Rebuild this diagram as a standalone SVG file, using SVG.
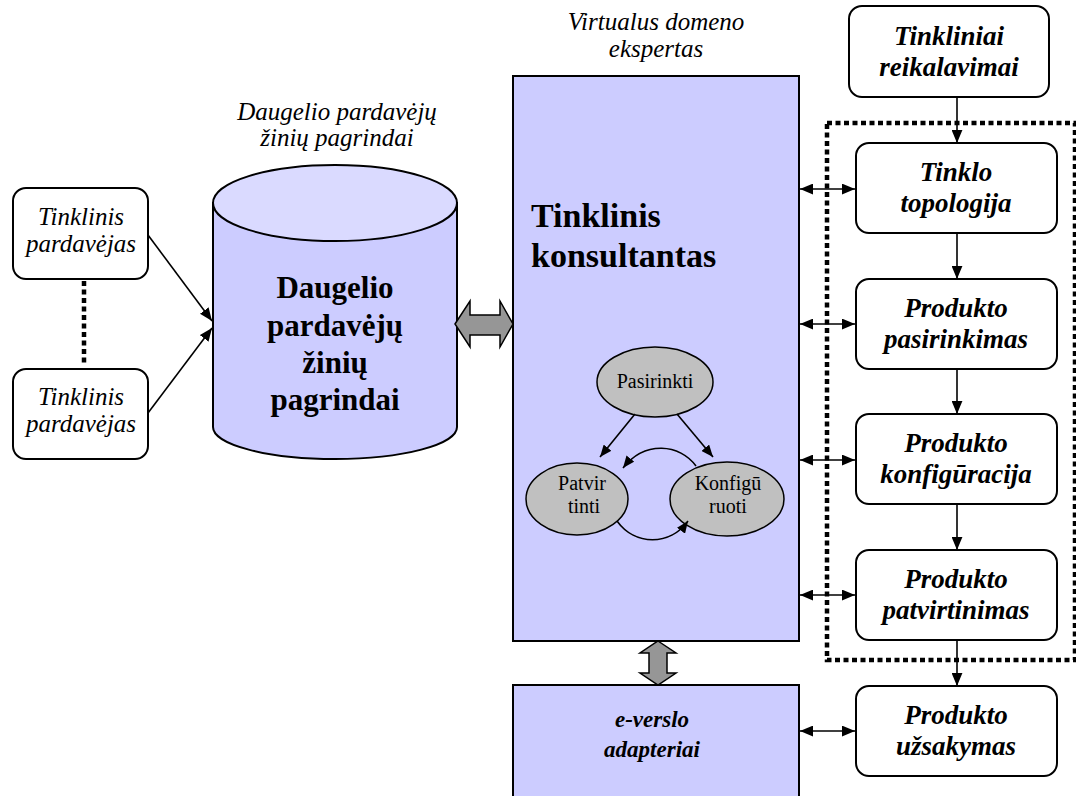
<svg xmlns="http://www.w3.org/2000/svg" width="1076" height="796" viewBox="0 0 1076 796">
<defs>
<style>
text{font-family:"Liberation Serif","DejaVu Serif",serif;fill:#000;text-anchor:middle}
.it{font-style:italic;font-size:25px}
.bi{font-style:italic;font-weight:bold;font-size:27px}
.box{fill:#fff;stroke:#000;stroke-width:2}
.blue{fill:#ccccff;stroke:#000;stroke-width:2}
.ell{fill:#c0c0c0;stroke:#000;stroke-width:1.5}
.ln{fill:none;stroke:#000;stroke-width:1.6}
.dot{fill:none;stroke:#000;stroke-width:4.5;stroke-dasharray:5 3.5}
.garrow{fill:#969696;stroke:#000;stroke-width:1.5}
.sm{font-size:20px}
</style>
<marker id="ah" viewBox="0 0 12 10" refX="12" refY="5" markerWidth="13" markerHeight="11" markerUnits="userSpaceOnUse" orient="auto-start-reverse">
<path d="M0,0 L12,5 L0,10 z" fill="#000"/>
</marker>
<marker id="ahs" viewBox="0 0 12 10" refX="12" refY="5" markerWidth="12" markerHeight="10" markerUnits="userSpaceOnUse" orient="auto">
<path d="M0,0 L12,5 L0,10 z" fill="#000"/>
</marker>
</defs>

<g id="label-kb">
<text class="it" x="337" y="120">Daugelio pardavėjų</text>
<text class="it" x="337" y="146">žinių pagrindai</text>
</g>
<g id="label-expert">
<text class="it" x="656" y="30">Virtualus domeno</text>
<text class="it" x="656" y="57">ekspertas</text>
</g>

<g id="vendor1">
<rect class="box" x="13" y="188" width="135" height="91" rx="13"/>
<text class="it" x="81" y="225">Tinklinis</text>
<text class="it" x="81" y="252">pardavėjas</text>
</g>
<g id="vendor2">
<rect class="box" x="13" y="369" width="135" height="90" rx="13"/>
<text class="it" x="81" y="405">Tinklinis</text>
<text class="it" x="81" y="432">pardavėjas</text>
</g>

<g id="knowledge-base">
<path class="blue" d="M213,203 L213,427 A122,32 0 0 0 457,427 L457,203 Z"/>
<ellipse cx="335" cy="203" rx="122" ry="38" fill="#dadaff" stroke="#000" stroke-width="2"/>
<text x="335" y="298" font-weight="bold" font-size="31">Daugelio</text>
<text x="335" y="336" font-weight="bold" font-size="31">pardavėjų</text>
<text x="335" y="373" font-weight="bold" font-size="31">žinių</text>
<text x="335" y="410" font-weight="bold" font-size="31">pagrindai</text>
</g>

<g id="consultant">
<rect class="blue" x="513" y="76" width="286" height="565"/>
<text x="531" y="227" font-weight="bold" font-size="34" style="text-anchor:start">Tinklinis</text>
<text x="531" y="267" font-weight="bold" font-size="34" style="text-anchor:start">konsultantas</text>
</g>

<g id="pasirinkti">
<ellipse class="ell" cx="655" cy="382" rx="58" ry="35"/>
<text class="sm" x="655" y="388">Pasirinkti</text>
</g>
<g id="patvirtinti">
<ellipse class="ell" cx="577" cy="499" rx="51" ry="36"/>
<text class="sm" x="582" y="490">Patvir</text>
<text class="sm" x="584" y="513">tinti</text>
</g>
<g id="konfiguruoti">
<ellipse class="ell" cx="727" cy="499" rx="57" ry="37"/>
<text class="sm" x="728" y="490">Konfigū</text>
<text class="sm" x="728" y="513">ruoti</text>
</g>

<g id="everslo">
<rect class="blue" x="513" y="685" width="286" height="120"/>
<text class="bi" x="652" y="727" style="font-size:23px">e-verslo</text>
<text class="bi" x="652" y="757" style="font-size:23px">adapteriai</text>
</g>

<g id="reikalavimai">
<rect class="box" x="849" y="6" width="200" height="91" rx="13"/>
<text class="bi" x="949" y="45">Tinkliniai</text>
<text class="bi" x="949" y="76">reikalavimai</text>
</g>
<g id="topologija">
<rect class="box" x="856" y="143" width="201" height="90" rx="13"/>
<text class="bi" x="956" y="181">Tinklo</text>
<text class="bi" x="956" y="212">topologija</text>
</g>
<g id="pasirinkimas">
<rect class="box" x="856" y="279" width="201" height="90" rx="13"/>
<text class="bi" x="956" y="317">Produkto</text>
<text class="bi" x="956" y="348">pasirinkimas</text>
</g>
<g id="konfiguracija">
<rect class="box" x="856" y="414" width="201" height="90" rx="13"/>
<text class="bi" x="956" y="452">Produkto</text>
<text class="bi" x="956" y="483">konfigūracija</text>
</g>
<g id="patvirtinimas">
<rect class="box" x="856" y="550" width="201" height="90" rx="13"/>
<text class="bi" x="956" y="588">Produkto</text>
<text class="bi" x="956" y="619">patvirtinimas</text>
</g>
<g id="uzsakymas">
<rect class="box" x="856" y="686" width="201" height="90" rx="13"/>
<text class="bi" x="956" y="724">Produkto</text>
<text class="bi" x="956" y="755">užsakymas</text>
</g>

<g id="connectors">
<line class="ln" x1="148" y1="235" x2="212" y2="321" marker-end="url(#ah)"/>
<line class="ln" x1="148" y1="413" x2="212" y2="328" marker-end="url(#ah)"/>
<path class="garrow" d="M455,324 L470,301 L470,315 L500,315 L500,301 L513,324 L500,347 L500,335 L470,335 L470,347 Z"/>
<path class="garrow" d="M658,641 L676,653 L667,653 L667,673 L676,673 L658,685 L640,673 L649,673 L649,653 L640,653 Z"/>
<line class="ln" x1="957" y1="97" x2="957" y2="143" marker-end="url(#ah)"/>
<line class="ln" x1="957" y1="233" x2="957" y2="279" marker-end="url(#ah)"/>
<line class="ln" x1="957" y1="369" x2="957" y2="414" marker-end="url(#ah)"/>
<line class="ln" x1="957" y1="504" x2="957" y2="550" marker-end="url(#ah)"/>
<line class="ln" x1="957" y1="640" x2="957" y2="686" marker-end="url(#ah)"/>
<line class="ln" x1="800" y1="189" x2="855" y2="189" marker-start="url(#ah)" marker-end="url(#ah)"/>
<line class="ln" x1="800" y1="324" x2="855" y2="324" marker-start="url(#ah)" marker-end="url(#ah)"/>
<line class="ln" x1="800" y1="460" x2="855" y2="460" marker-start="url(#ah)" marker-end="url(#ah)"/>
<line class="ln" x1="800" y1="595" x2="855" y2="595" marker-start="url(#ah)" marker-end="url(#ah)"/>
<line class="ln" x1="800" y1="731" x2="855" y2="731" marker-start="url(#ah)" marker-end="url(#ah)"/>
<line class="ln" x1="635" y1="414" x2="600" y2="457" marker-end="url(#ahs)"/>
<line class="ln" x1="677" y1="414" x2="713" y2="457" marker-end="url(#ahs)"/>
<path class="ln" d="M696,466 C680,444 645,440 623,468" marker-end="url(#ahs)"/>
<path class="ln" d="M617,521 C635,546 670,546 688,521" marker-end="url(#ahs)"/>
<line class="dot" x1="84" y1="281" x2="84" y2="365"/>
<rect class="dot" x="827" y="123" width="248" height="537"/>
</g>
</svg>
